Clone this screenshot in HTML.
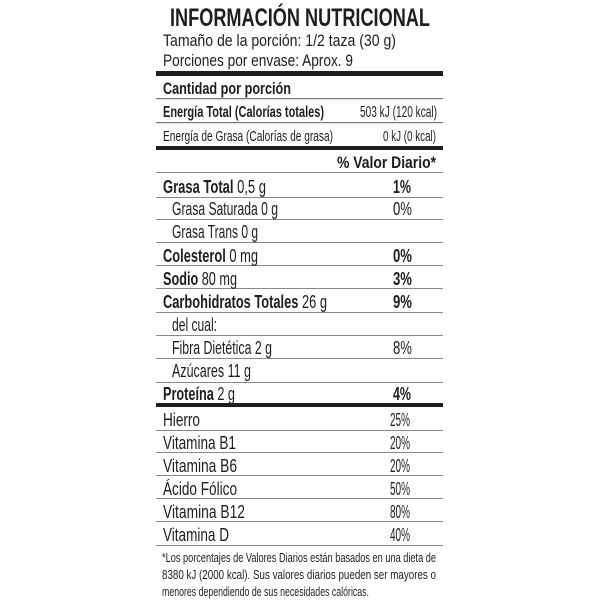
<!DOCTYPE html>
<html><head><meta charset="utf-8"><style>
html,body{margin:0;padding:0;background:#fff;}
svg{display:block;}
text{font-family:"Liberation Sans",sans-serif;fill:#1e1e1e;}
.b{font-weight:bold;}
</style></head><body>
<svg width="600" height="600" viewBox="0 0 600 600" xmlns="http://www.w3.org/2000/svg">
<rect width="600" height="600" fill="#fff"/>
<text x="170" y="26" class="b" font-size="25" textLength="260" lengthAdjust="spacingAndGlyphs">INFORMACIÓN NUTRICIONAL</text>
<text x="163" y="46" font-size="17" textLength="233" lengthAdjust="spacingAndGlyphs">Tamaño de la porción: 1/2 taza (30 g)</text>
<text x="163" y="66" font-size="17" textLength="190" lengthAdjust="spacingAndGlyphs">Porciones por envase: Aprox. 9</text>
<rect x="156" y="71" width="287" height="5" fill="#1e1e1e"/>
<text x="163" y="94" class="b" font-size="17" textLength="128" lengthAdjust="spacingAndGlyphs">Cantidad por porción</text>
<rect x="156" y="98" width="287" height="1.2" fill="#777"/>
<text x="163" y="117" class="b" font-size="16" textLength="161" lengthAdjust="spacingAndGlyphs">Energía Total (Calorías totales)</text>
<text x="437" y="117" font-size="16" text-anchor="end" textLength="77" lengthAdjust="spacingAndGlyphs">503 kJ (120 kcal)</text>
<rect x="156" y="122" width="287" height="1.2" fill="#777"/>
<text x="163" y="141" font-size="15" textLength="170" lengthAdjust="spacingAndGlyphs">Energía de Grasa (Calorías de grasa)</text>
<text x="436" y="141" font-size="15" text-anchor="end" textLength="53" lengthAdjust="spacingAndGlyphs">0 kJ (0 kcal)</text>
<rect x="156" y="146" width="287" height="4" fill="#1e1e1e"/>
<text x="436" y="168" class="b" font-size="17" text-anchor="end" textLength="99" lengthAdjust="spacingAndGlyphs">% Valor Diario*</text>
<g fill="#888">
<rect x="156" y="172" width="287" height="1"/>
<rect x="156" y="197" width="287" height="1"/>
<rect x="156" y="219" width="287" height="1"/>
<rect x="156" y="242" width="287" height="1"/>
<rect x="156" y="265" width="287" height="1"/>
<rect x="156" y="288" width="287" height="1"/>
<rect x="156" y="312" width="287" height="1"/>
<rect x="156" y="335" width="287" height="1"/>
<rect x="156" y="358" width="287" height="1"/>
<rect x="156" y="382" width="287" height="1"/>
<rect x="156" y="430" width="287" height="1"/>
<rect x="156" y="452" width="287" height="1"/>
<rect x="156" y="475" width="287" height="1"/>
<rect x="156" y="498" width="287" height="1"/>
<rect x="156" y="521" width="287" height="1"/>
<rect x="156" y="545" width="287" height="1"/>
</g>
<rect x="156" y="403" width="287" height="4" fill="#1e1e1e"/>
<g font-size="18">
<text x="163" y="193" textLength="103" lengthAdjust="spacingAndGlyphs"><tspan class="b">Grasa Total</tspan> 0,5 g</text>
<text x="393" y="193" class="b" textLength="18" lengthAdjust="spacingAndGlyphs">1%</text>
<text x="172" y="215" textLength="106" lengthAdjust="spacingAndGlyphs">Grasa Saturada 0 g</text>
<text x="393" y="215" textLength="19" lengthAdjust="spacingAndGlyphs">0%</text>
<text x="172" y="238" textLength="86" lengthAdjust="spacingAndGlyphs">Grasa Trans 0 g</text>
<text x="163" y="262" textLength="95" lengthAdjust="spacingAndGlyphs"><tspan class="b">Colesterol</tspan> 0 mg</text>
<text x="393" y="262" class="b" textLength="19" lengthAdjust="spacingAndGlyphs">0%</text>
<text x="163" y="285" textLength="74" lengthAdjust="spacingAndGlyphs"><tspan class="b">Sodio</tspan> 80 mg</text>
<text x="393" y="285" class="b" textLength="19" lengthAdjust="spacingAndGlyphs">3%</text>
<text x="163" y="308" textLength="164" lengthAdjust="spacingAndGlyphs"><tspan class="b">Carbohidratos Totales</tspan> 26 g</text>
<text x="393" y="308" class="b" textLength="19" lengthAdjust="spacingAndGlyphs">9%</text>
<text x="172" y="331" textLength="45" lengthAdjust="spacingAndGlyphs">del cual:</text>
<text x="172" y="354" textLength="100" lengthAdjust="spacingAndGlyphs">Fibra Dietética 2 g</text>
<text x="393" y="354" textLength="19" lengthAdjust="spacingAndGlyphs">8%</text>
<text x="172" y="377" textLength="79" lengthAdjust="spacingAndGlyphs">Azúcares 11 g</text>
<text x="163" y="400" textLength="72" lengthAdjust="spacingAndGlyphs"><tspan class="b">Proteína</tspan> 2 g</text>
<text x="393" y="400" class="b" textLength="18" lengthAdjust="spacingAndGlyphs">4%</text>
<text x="163" y="426" textLength="37" lengthAdjust="spacingAndGlyphs">Hierro</text>
<text x="390" y="426" textLength="20" lengthAdjust="spacingAndGlyphs">25%</text>
<text x="163" y="449" textLength="73" lengthAdjust="spacingAndGlyphs">Vitamina B1</text>
<text x="390" y="449" textLength="20" lengthAdjust="spacingAndGlyphs">20%</text>
<text x="163" y="472" textLength="74" lengthAdjust="spacingAndGlyphs">Vitamina B6</text>
<text x="390" y="472" textLength="20" lengthAdjust="spacingAndGlyphs">20%</text>
<text x="163" y="495" textLength="74" lengthAdjust="spacingAndGlyphs">Ácido Fólico</text>
<text x="390" y="495" textLength="20" lengthAdjust="spacingAndGlyphs">50%</text>
<text x="163" y="518" textLength="82" lengthAdjust="spacingAndGlyphs">Vitamina B12</text>
<text x="390" y="518" textLength="20" lengthAdjust="spacingAndGlyphs">80%</text>
<text x="163" y="541" textLength="66" lengthAdjust="spacingAndGlyphs">Vitamina D</text>
<text x="390" y="541" textLength="20" lengthAdjust="spacingAndGlyphs">40%</text>
</g>
<g font-size="12.5">
<text x="162" y="562" textLength="274" lengthAdjust="spacingAndGlyphs">*Los porcentajes de Valores Diarios están basados en una dieta de</text>
<text x="162" y="579" textLength="274" lengthAdjust="spacingAndGlyphs">8380 kJ (2000 kcal). Sus valores diarios pueden ser mayores o</text>
<text x="162" y="596" textLength="207" lengthAdjust="spacingAndGlyphs">menores dependiendo de sus necesidades calóricas.</text>
</g>
</svg>
</body></html>
